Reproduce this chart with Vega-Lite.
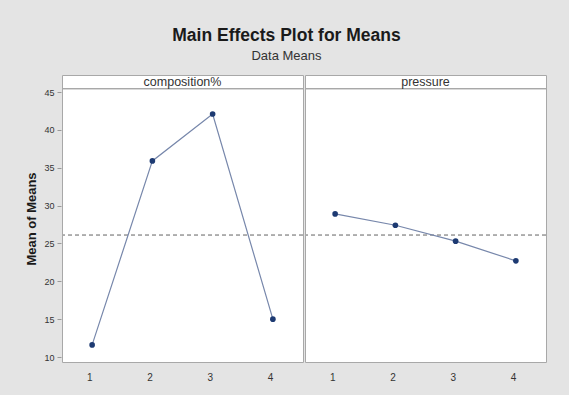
{
  "$schema": "https://vega.github.io/schema/vega-lite/v6.json",
  "background": "#e4e4e4",
  "padding": {"left": 25, "top": 27, "right": 22, "bottom": 13},
  "title": {
    "text": "Main Effects Plot for Means",
    "subtitle": "Data Means",
    "anchor": "middle",
    "font": "Liberation Sans",
    "fontSize": 17.5,
    "fontWeight": "bold",
    "color": "#1a1a1a",
    "subtitleFont": "Liberation Sans",
    "subtitleFontSize": 13,
    "subtitleColor": "#333333",
    "subtitlePadding": 5,
    "offset": 12
  },
  "data": {
    "values": [
      {"factor": "composition%", "level": "1", "mean": 11.6},
      {"factor": "composition%", "level": "2", "mean": 35.9},
      {"factor": "composition%", "level": "3", "mean": 42.1},
      {"factor": "composition%", "level": "4", "mean": 15.0},
      {"factor": "pressure", "level": "1", "mean": 28.9},
      {"factor": "pressure", "level": "2", "mean": 27.4},
      {"factor": "pressure", "level": "3", "mean": 25.3},
      {"factor": "pressure", "level": "4", "mean": 22.7}
    ]
  },
  "facet": {
    "column": {
      "field": "factor",
      "type": "nominal",
      "sort": ["composition%", "pressure"],
      "header": {"title": null, "labels": false}
    }
  },
  "spacing": 0,
  "spec": {
    "width": 241,
    "height": 287,
    "layer": [
      {
        "mark": {"type": "rule", "color": "#ababab", "strokeDash": [4, 3], "strokeWidth": 1},
        "encoding": {"y": {"datum": 26.1, "type": "quantitative"}}
      },
      {
        "mark": {"type": "rule", "color": "#a8a8a8", "strokeWidth": 1},
        "encoding": {"y": {"datum": 45.45, "type": "quantitative"}}
      },
      {
        "transform": [{"filter": "datum.level == '1'"}],
        "mark": {"type": "text", "font": "Liberation Sans", "fontSize": 12.5, "color": "#333333", "baseline": "middle"},
        "encoding": {
          "text": {"field": "factor", "type": "nominal"},
          "y": {"datum": 46.35, "type": "quantitative"}
        }
      },
      {
        "mark": {"type": "line", "color": "#7787ab", "strokeWidth": 1.2},
        "encoding": {
          "x": {"field": "level", "type": "ordinal"},
          "y": {"field": "mean", "type": "quantitative"}
        }
      },
      {
        "mark": {"type": "point", "filled": true, "color": "#1d3a72", "size": 32, "opacity": 1},
        "encoding": {
          "x": {
            "field": "level",
            "type": "ordinal",
            "scale": {"type": "point", "padding": 0.5},
            "axis": {"title": null, "labelAngle": 0, "ticks": false, "domain": false, "labelPadding": 14, "labelFont": "Liberation Sans", "labelFontSize": 10, "labelColor": "#333333"}
          },
          "y": {
            "field": "mean",
            "type": "quantitative",
            "scale": {"domain": [9.34, 47.25], "nice": false, "zero": false},
            "axis": {
              "title": "Mean of Means",
              "titleFont": "Liberation Sans",
              "titleFontSize": 13,
              "titleFontWeight": "bold",
              "titleColor": "#1a1a1a",
              "titlePadding": 5,
              "values": [10, 15, 20, 25, 30, 35, 40, 45],
              "grid": false,
              "domain": false,
              "tickSize": 4,
              "tickColor": "#9a9a9a",
              "labelFont": "Liberation Sans",
              "labelFontSize": 9,
              "labelColor": "#333333",
              "labelPadding": 3
            }
          }
        }
      }
    ]
  },
  "config": {
    "view": {"fill": "white", "stroke": "#a8a8a8", "strokeWidth": 1}
  }
}
